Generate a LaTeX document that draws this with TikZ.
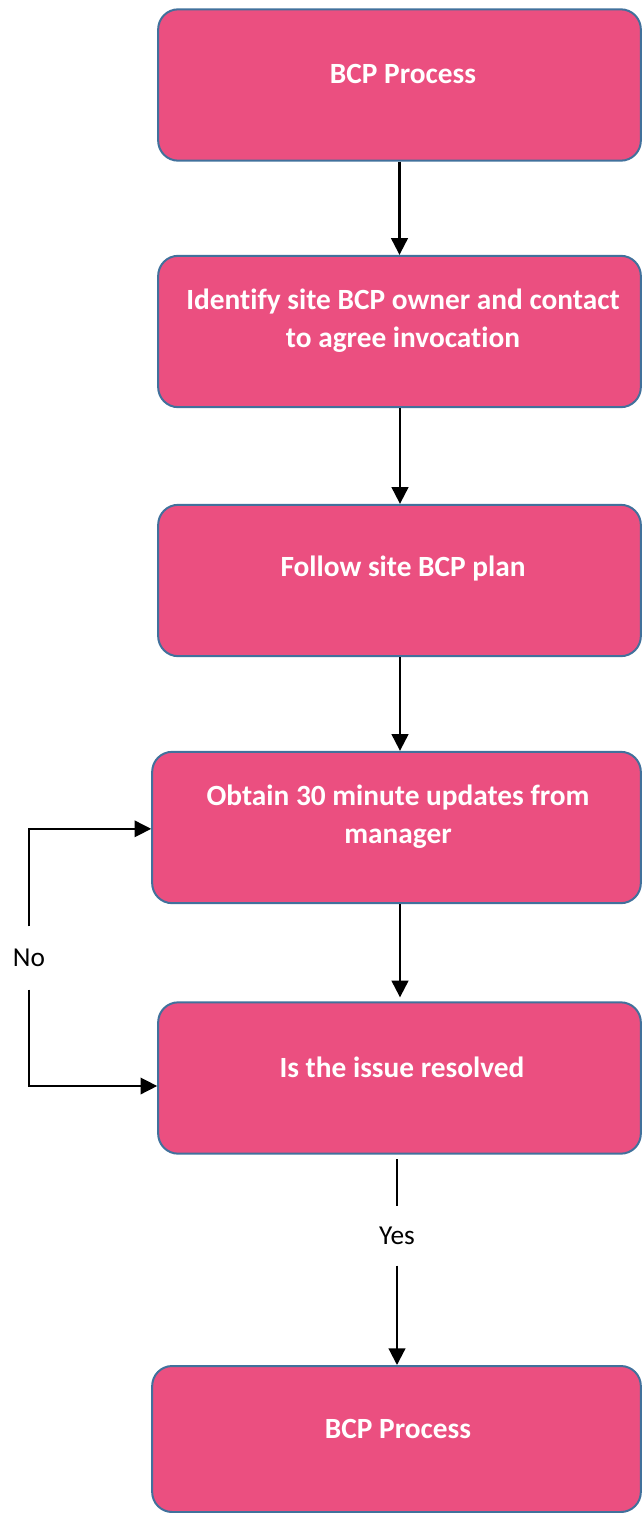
\documentclass[tikz,border=0pt]{standalone}
\usepackage{fontspec}
\setmainfont[Ligatures=CommonOff]{Carlito}
\usetikzlibrary{arrows.meta}
\definecolor{boxfill}{HTML}{EB4F80}
\definecolor{boxline}{HTML}{41719C}
\tikzset{
  px/.style={x=0.75pt,y=-0.75pt},
  procbox/.style={draw=boxline,line width=1.5pt,fill=boxfill,rounded corners=15pt,
    minimum width=362pt,minimum height=113.5pt,inner sep=0pt},
  boxtext/.style={text=white,font=\fontsize{22}{28.5}\selectfont\bfseries,align=center,inner sep=0pt},
  flow/.style={line width=1.6pt,-{Triangle[length=12.5pt,width=12.5pt]}},
  thinline/.style={line width=0.9pt},
  lbl/.style={font=\fontsize{20.5}{24}\selectfont,inner sep=0pt}
}
\begin{document}
\begin{tikzpicture}[px]
\useasboundingbox (0,0) rectangle (643,1513);
\node[procbox] (b1) at (399.5,85) {};
\node[boxtext] (t1) at (403,74) {BCP Process};
\node[procbox] (b2) at (399.5,331.5) {};
\node[boxtext] (t2) at (403,320.5) {Identify site BCP owner and contact\\to agree invocation};
\node[procbox] (b3) at (399.5,580.5) {};
\node[boxtext] (t3) at (403,569) {Follow site BCP plan};
\node[procbox,minimum width=366.5pt] (b4) at (396.5,827.5) {};
\node[boxtext] (t4) at (398,817) {Obtain 30 minute updates from\\manager};
\node[procbox] (b5) at (399.5,1078) {};
\node[boxtext] (t5) at (402,1067) {Is the issue resolved};
\node[procbox,minimum width=366.5pt,minimum height=109.5pt] (b6) at (396.5,1439) {};
\node[boxtext] (t6) at (398,1429) {BCP Process};

\node[lbl,minimum height=47pt] (no) at (29,958) {No};
\node[lbl,minimum height=44pt] (yes) at (397,1236) {Yes};

\coordinate (ax) at (400,0);
\draw[flow] (b1.south) -- (b2.north);
\draw[flow] (b2.south -| ax) -- (b3.north -| ax);
\draw[flow] (b3.south -| ax) -- (b4.north -| ax);
\draw[flow,shorten >=3pt] (b4.south -| ax) -- (b5.north -| ax);
\draw[thinline,shorten <=3.5pt] (b5.south -| yes) -- (yes.north);
\draw[flow] (yes.south) -- (b6.north -| yes);
\draw[flow,line width=1.1pt] (no.north) |- ([yshift=-1pt]b4.west);
\draw[flow,line width=1.1pt] (no.south) |- ([yshift=-6pt]b5.west);
\end{tikzpicture}
\end{document}
